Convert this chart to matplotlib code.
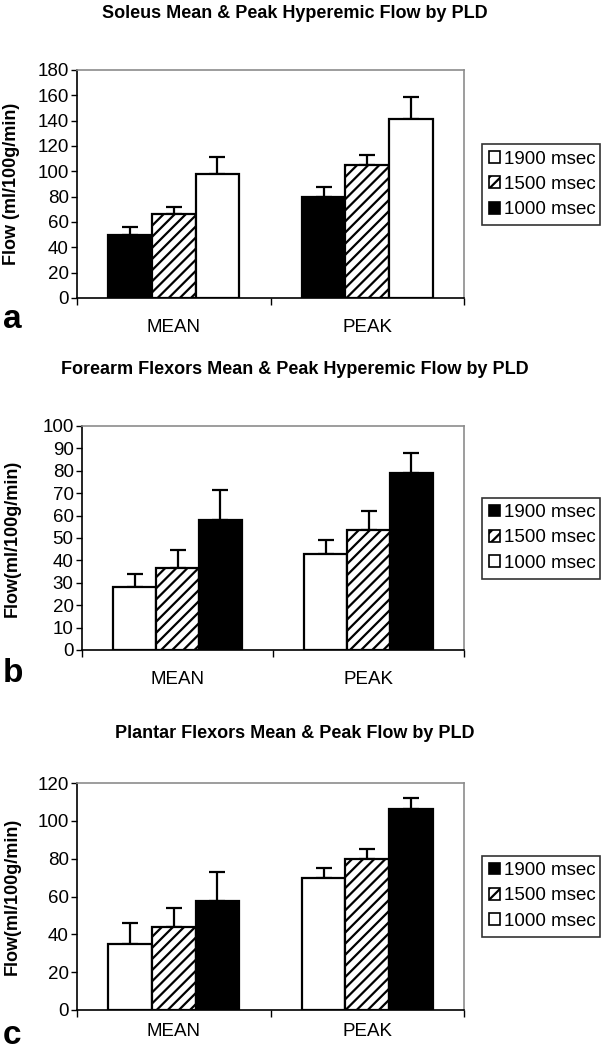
import numpy as np
import matplotlib
matplotlib.use("Agg")
import matplotlib.pyplot as plt
from matplotlib.patches import Patch

plt.rcParams['font.family'] = ['Liberation Sans', 'DejaVu Sans']
plt.rcParams['hatch.linewidth'] = 1.6

groups = ['MEAN', 'PEAK']
plds = ['1000 msec', '1500 msec', '1900 msec']

# panel a - soleus
soleus_1000 = [50, 80]
soleus_1500 = [66, 105]
soleus_1900 = [98, 141]
soleus_err_1000 = [6, 8]
soleus_err_1500 = [6, 8]
soleus_err_1900 = [13, 18]

# panel b - forearm flexors
forearm_1000 = [28, 43]
forearm_1500 = [36.5, 53.5]
forearm_1900 = [58, 79]
forearm_err_1000 = [6, 6]
forearm_err_1500 = [8, 8.5]
forearm_err_1900 = [13.5, 9]

# panel c - plantar flexors
plantar_1000 = [35, 70]
plantar_1500 = [44, 80]
plantar_1900 = [57.5, 106]
plantar_err_1000 = [11, 5]
plantar_err_1500 = [10, 5]
plantar_err_1900 = [15.5, 6]


def px_axes(fig, left, top, right, bottom):
    W, H = 606, 1050
    return fig.add_axes([left / W, 1 - bottom / H, (right - left) / W, (bottom - top) / H])


def draw_panel(fig, box, title, title_y, ylabel, letter, letter_y, xlab_y,
               vals, errs, styles, ymax, ystep, legend_top, legend_bottom):
    left, top, right, bottom = box
    ax = px_axes(fig, left, top, right, bottom)
    W, H = 606, 1050
    x = np.arange(len(groups))
    width = 0.225
    for i in range(3):
        fc, hatch = styles[i]
        ax.bar(x + (i - 1) * width, vals[i], width, color=fc, edgecolor='black',
               hatch=hatch, linewidth=1.6, zorder=2)
        ax.errorbar(x + (i - 1) * width, vals[i], yerr=[[0, 0], errs[i]], fmt='none',
                    ecolor='black', elinewidth=1.6, capsize=6, capthick=1.6, zorder=1)
    ax.set_xlim(-0.5, 1.5)
    ax.set_ylim(0, ymax)
    ax.set_yticks(np.arange(0, ymax + 1, ystep))
    ax.tick_params(axis='y', labelsize=13.5, length=4, width=1, direction='out', pad=2)
    ax.set_xticks([-0.5, 0.5, 1.5])
    ax.set_xticklabels([])
    ax.tick_params(axis='x', length=5, width=1, direction='out')
    for sp in ['top', 'right']:
        ax.spines[sp].set_color('#8c8c8c')
        ax.spines[sp].set_linewidth(1.2)
    for sp in ['left', 'bottom']:
        ax.spines[sp].set_color('black')
        ax.spines[sp].set_linewidth(1.2)

    for xi, g in zip(x, groups):
        xp = left + (xi + 0.5) / 2 * (right - left)
        fig.text(xp / W, 1 - xlab_y / H, g, fontsize=13.5, ha='center', va='center')

    fig.text(12 / W, 1 - (top + bottom) / 2 / H, ylabel, rotation=90, fontsize=13,
             fontweight='bold', ha='center', va='center')
    fig.text(295 / W, 1 - title_y / H, title, fontsize=13, fontweight='bold',
             ha='center', va='center')
    fig.text(3 / W, 1 - letter_y / H, letter, fontsize=24, fontweight='bold',
             ha='left', va='center')

    handles = [Patch(facecolor=styles[i][0], edgecolor='black', hatch=styles[i][1],
                     linewidth=1.2, label=plds[i]) for i in range(3)][::-1]
    lax = px_axes(fig, 482, legend_top, 600, legend_bottom)
    lax.axis('off')
    leg = lax.legend(handles=handles, loc='center', fontsize=13.5, frameon=True,
                     fancybox=False, handlelength=0.6, handleheight=0.6,
                     handletextpad=0.25, labelspacing=0.45, borderpad=0.35,
                     borderaxespad=0, mode='expand', bbox_to_anchor=(0, 0, 1, 1))
    leg.get_frame().set_edgecolor('black')
    leg.get_frame().set_linewidth(1.2)
    return ax


fig = plt.figure(figsize=(6.06, 10.5), dpi=100)

black = ('black', None)
hatched = ('white', '///')
white = ('white', None)

draw_panel(fig, (77, 70, 464, 298), 'Soleus Mean & Peak Hyperemic Flow by PLD', 14,
           'Flow (ml/100g/min)', 'a', 320, 328,
           [soleus_1000, soleus_1500, soleus_1900],
           [soleus_err_1000, soleus_err_1500, soleus_err_1900],
           [black, hatched, white], 180, 20, 142, 227)

draw_panel(fig, (82, 426, 464, 650), 'Forearm Flexors Mean & Peak Hyperemic Flow by PLD', 369,
           'Flow(ml/100g/min)', 'b', 673, 680,
           [forearm_1000, forearm_1500, forearm_1900],
           [forearm_err_1000, forearm_err_1500, forearm_err_1900],
           [white, hatched, black], 100, 10, 495, 581)

draw_panel(fig, (77, 783, 464, 1010), 'Plantar Flexors Mean & Peak Flow by PLD', 733,
           'Flow(ml/100g/min)', 'c', 1035, 1031,
           [plantar_1000, plantar_1500, plantar_1900],
           [plantar_err_1000, plantar_err_1500, plantar_err_1900],
           [white, hatched, black], 120, 20, 854, 938)

fig.savefig('out.png', dpi=100)
